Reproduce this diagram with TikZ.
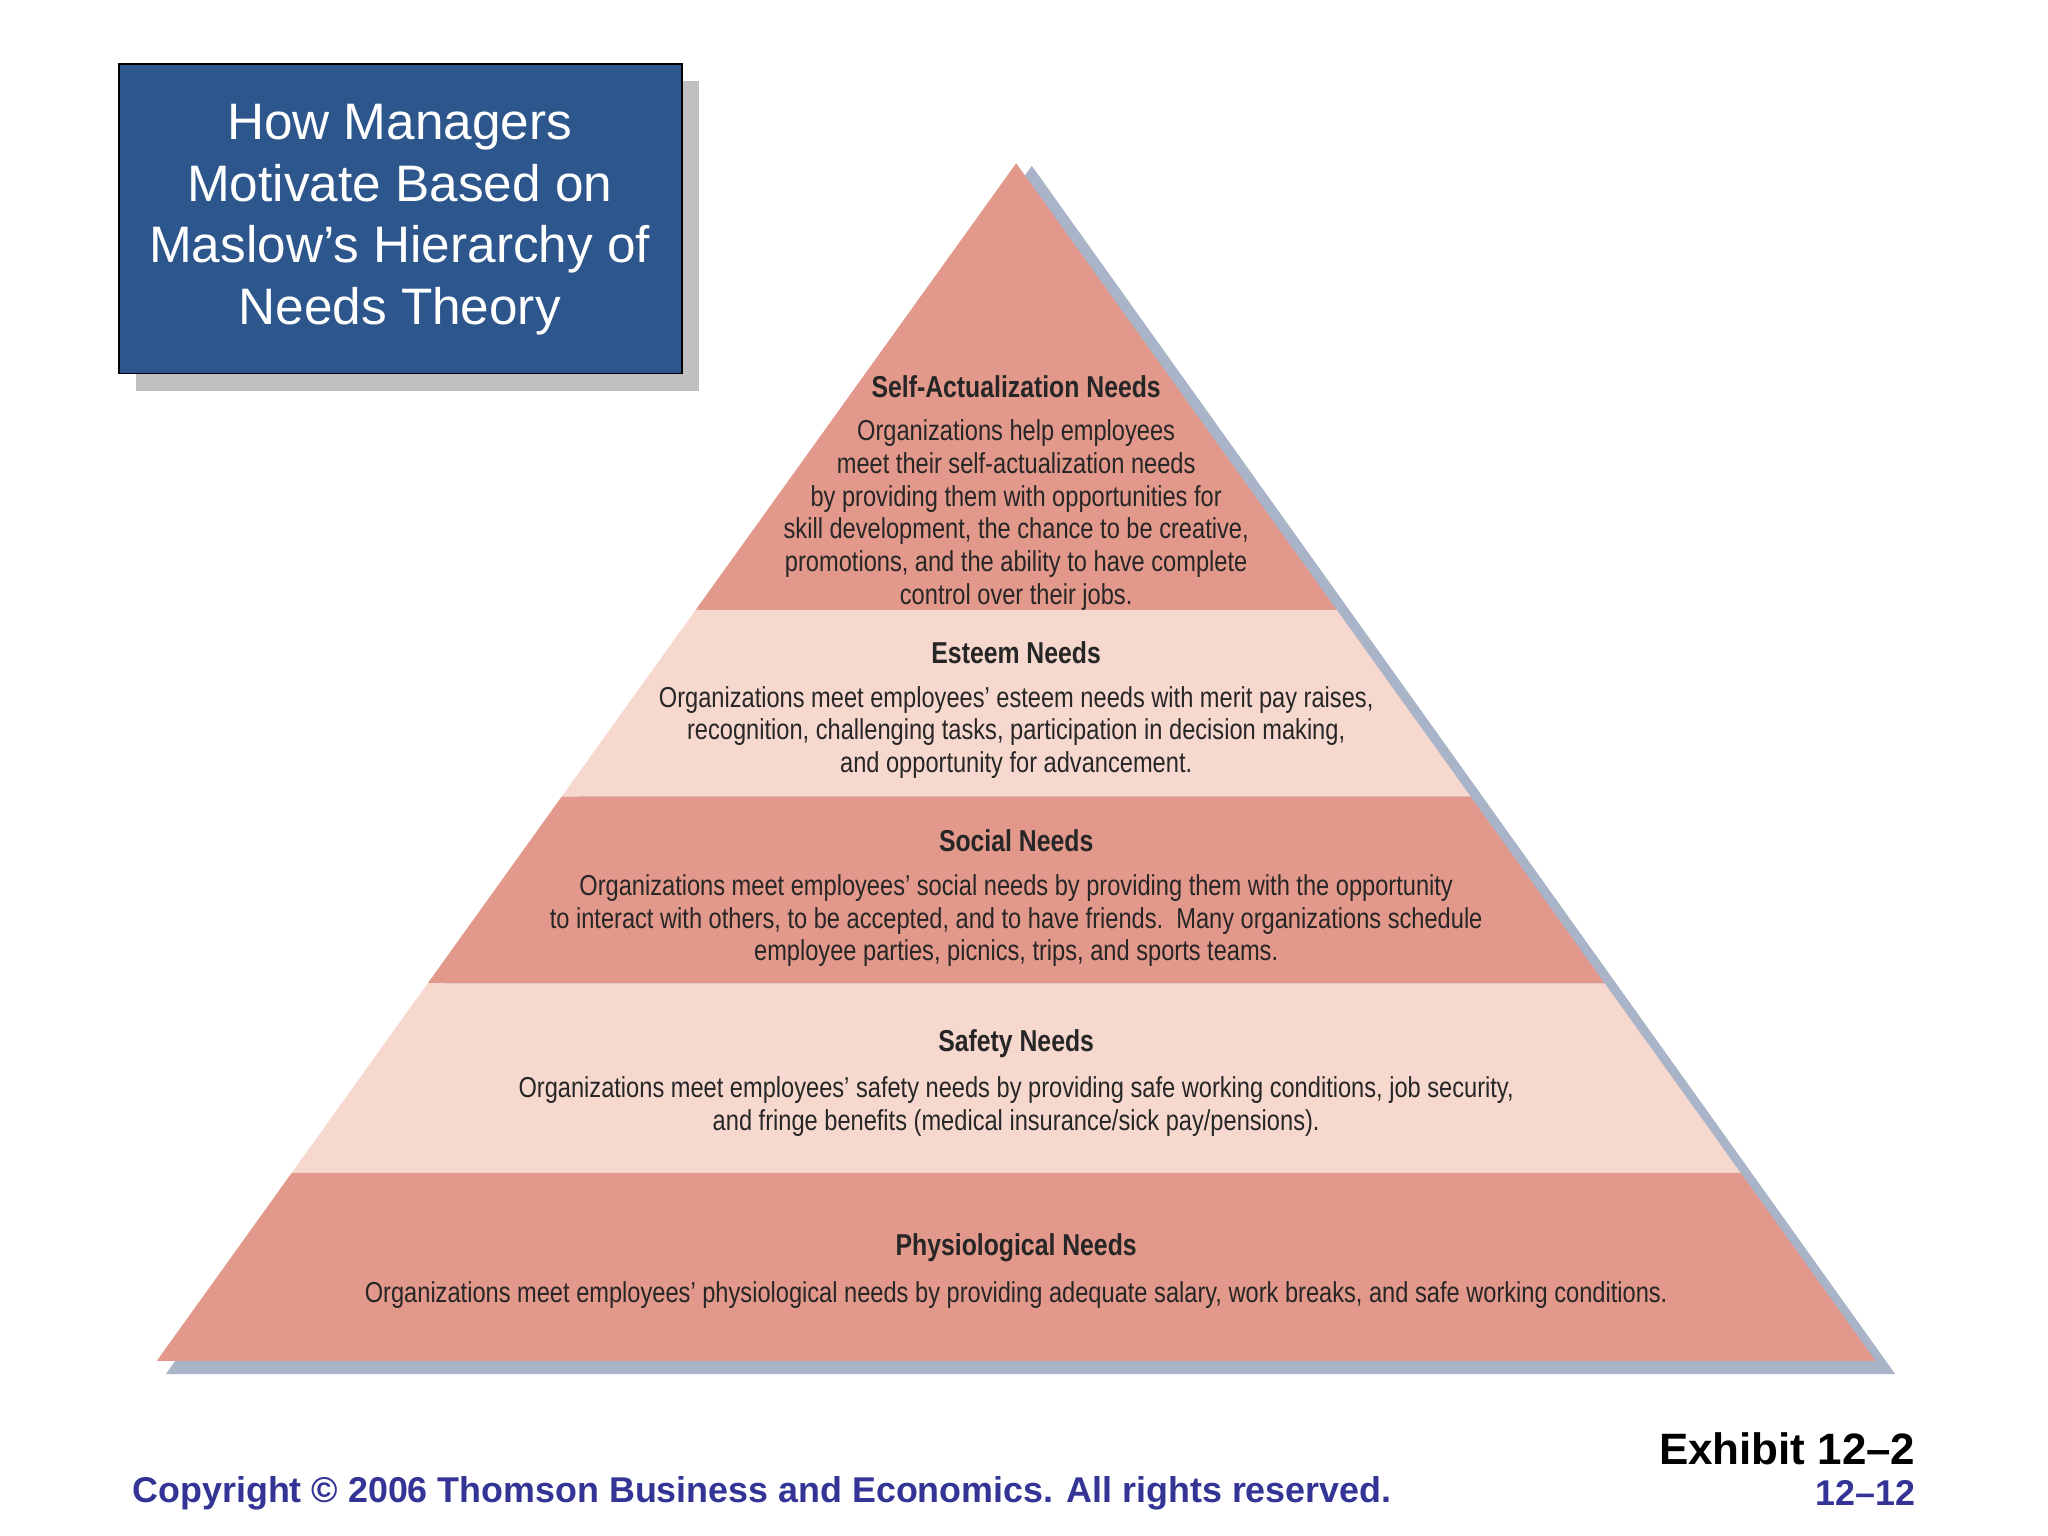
\documentclass[tikz,border=0pt]{standalone}
\usepackage{fontspec}
\usetikzlibrary{calc}
\setmainfont{Liberation Sans}
\newfontfamily\cond[FakeStretch=0.82]{Liberation Sans}
\definecolor{dk}{RGB}{226,152,138}
\definecolor{lt}{RGB}{246,216,206}
\definecolor{shd}{RGB}{170,180,200}
\definecolor{ttl}{RGB}{44,86,140}
\definecolor{cpy}{RGB}{52,52,150}
\tikzset{lvl/.style={align=center,font=\cond\fontsize{8.2}{9.3}\selectfont,text=black!85},
 hd/.style={font=\cond\bfseries\fontsize{8.6}{10}\selectfont,text=black!85}}
\begin{document}
\begin{tikzpicture}[x=0.013061cm,y=-0.013061cm]
\useasboundingbox (0,0) rectangle (1568,1176);
\fill[white] (0,0) rectangle (1568,1176);
% title
\fill[black!25] (104,62) rectangle (535,299);
\draw[black,fill=ttl] (91,49) rectangle (522,286);
\node[text=white,align=center,font=\fontsize{14.6}{17.5}\selectfont] (title) at (306,168) {How Managers\\Motivate Based on\\Maslow’s Hierarchy of\\Needs Theory};
% pyramid
\fill[shd] (790,127) -- (1451,1052) -- (127,1052) -- cycle;
\coordinate (A) at (778,125);
\coordinate (L) at (120,1042);
\coordinate (R) at (1436,1042);
\foreach \ya/\yb/\c in {125/467/dk,467/610/lt,610/753/dk,753/898/lt,898/1042/dk}{
 \pgfmathsetmacro\ta{(\ya-125)/917}
 \pgfmathsetmacro\tb{(\yb-125)/917}
 \fill[\c] ($(A)!\ta!(L)$) -- ($(A)!\ta!(R)$) -- ($(A)!\tb!(R)$) -- ($(A)!\tb!(L)$) -- cycle;
}
\node[hd] (h1) at (778,296) {Self-Actualization Needs};
\node[lvl,anchor=north] (t1) at (778,312) {Organizations help employees\\meet their self-actualization needs\\by providing them with opportunities for\\skill development, the chance to be creative,\\promotions, and the ability to have complete\\control over their jobs.};
\node[hd] (h2) at (778,500) {Esteem Needs};
\node[lvl,anchor=north] (t2) at (778,516) {Organizations meet employees’ esteem needs with merit pay raises,\\recognition, challenging tasks, participation in decision making,\\and opportunity for advancement.};
\node[hd] (h3) at (778,644) {Social Needs};
\node[lvl,anchor=north] (t3) at (778,660) {Organizations meet employees’ social needs by providing them with the opportunity\\to interact with others, to be accepted, and to have friends.\ \ Many organizations schedule\\employee parties, picnics, trips, and sports teams.};
\node[hd] (h4) at (778,799) {Safety Needs};
\node[lvl,anchor=north] (t4) at (778,815) {Organizations meet employees’ safety needs by providing safe working conditions, job security,\\and fringe benefits (medical insurance/sick pay/pensions).};
\node[hd] (h5) at (778,955) {Physiological Needs};
\node[lvl,anchor=north] (t5) at (778,972) {Organizations meet employees’ physiological needs by providing adequate salary, work breaks, and safe working conditions.};
% footer
\node[anchor=west,text=cpy,font=\bfseries\fontsize{10.2}{12}\selectfont] (cp) at (92,1143) {Copyright © 2006 Thomson Business and Economics. All rights reserved.};
\node[anchor=east,font=\bfseries\fontsize{12.5}{14}\selectfont] (ex) at (1476,1109) {Exhibit 12–2};
\node[anchor=east,text=cpy,font=\bfseries\fontsize{10.2}{12}\selectfont] (pg) at (1476,1143) {12–12};
\end{tikzpicture}
\end{document}
